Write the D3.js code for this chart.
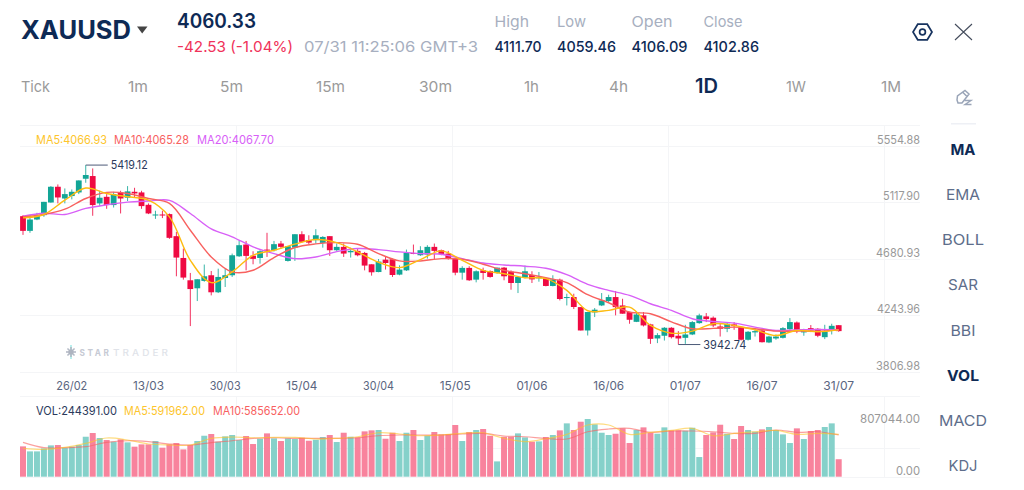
<!DOCTYPE html>
<html><head><meta charset="utf-8">
<script src="https://cdn.jsdelivr.net/npm/d3@7/dist/d3.min.js"></script>
<style>html,body{margin:0;padding:0;background:#fff;overflow:hidden}svg{display:block}text{font-family:Inter,"Noto Sans",sans-serif;dominant-baseline:central}</style>
</head><body><svg id="c" width="1024" height="490"></svg>
<script>
const open=[5011,4897,4985,5019,5117,5239,5148,5167,5195,5301,5322,5110,5161,5097,5195,5154,5200,5195,5099,5019,5024,5027,4856,4687,4514,4452,4509,4553,4421,4532,4553,4700,4791,4705,4687,4752,4747,4799,4664,4767,4871,4825,4825,4804,4856,4747,4773,4731,4742,4726,4638,4578,4674,4677,4558,4591,4726,4708,4713,4773,4747,4721,4682,4573,4610,4519,4591,4586,4571,4612,4581,4493,4534,4555,4529,4529,4470,4519,4379,4384,4306,4125,4265,4319,4353,4384,4319,4268,4192,4242,4172,4063,4084,4146,4084,4068,4094,4182,4234,4224,4156,4138,4172,4146,4053,4110,4125,4032,4063,4068,4135,4187,4110,4143,4138,4073,4125,4166];
const high=[5019,5019,5037,5122,5244,5257,5226,5218,5288,5407,5381,5208,5182,5200,5208,5244,5231,5208,5110,5053,5053,5032,4889,4760,4571,4522,4636,4586,4604,4604,4721,4819,4819,4739,4747,4882,4819,4819,4778,4871,4894,4863,4910,4856,4856,4799,4799,4767,4760,4734,4638,4679,4700,4682,4630,4752,4791,4778,4786,4799,4752,4742,4690,4623,4623,4591,4612,4591,4612,4617,4591,4545,4628,4584,4578,4534,4553,4527,4410,4410,4306,4268,4299,4415,4402,4431,4371,4268,4268,4268,4177,4104,4151,4151,4120,4169,4198,4255,4260,4234,4182,4182,4190,4151,4120,4138,4133,4084,4094,4151,4221,4195,4138,4167,4143,4169,4177,4166];
const low=[4866,4882,4980,5006,5115,5110,5110,5141,5182,5270,5014,5089,5068,5078,5032,5128,5156,5068,5027,4990,4996,4835,4545,4519,4159,4353,4503,4397,4415,4462,4540,4695,4591,4638,4643,4695,4737,4760,4659,4664,4806,4793,4799,4767,4703,4742,4695,4690,4700,4591,4550,4576,4597,4540,4553,4586,4716,4703,4682,4677,4708,4674,4553,4519,4509,4498,4519,4534,4565,4514,4441,4415,4529,4493,4503,4467,4467,4358,4319,4291,4125,4086,4229,4314,4345,4242,4255,4177,4190,4156,4021,4027,4047,4063,4016,4021,4089,4177,4190,4151,4078,4112,4130,4047,4047,4078,4032,4027,4053,4063,4130,4104,4084,4112,4073,4058,4094,4115];
const close=[4897,4985,5019,5122,5239,5156,5182,5200,5288,5330,5097,5154,5097,5182,5148,5203,5187,5089,5032,5024,5016,4843,4690,4535,4446,4522,4545,4421,4540,4553,4708,4786,4703,4680,4739,4744,4794,4773,4778,4871,4812,4806,4863,4850,4747,4773,4721,4742,4708,4628,4576,4659,4648,4555,4597,4726,4721,4747,4773,4742,4716,4682,4573,4610,4514,4584,4571,4540,4612,4545,4493,4540,4584,4521,4540,4470,4521,4369,4384,4307,4125,4268,4286,4358,4384,4306,4255,4208,4249,4164,4060,4089,4146,4073,4063,4094,4190,4242,4213,4164,4138,4177,4159,4053,4115,4120,4034,4078,4078,4143,4190,4130,4120,4125,4084,4115,4161,4120];
const volume=[424000,354000,354000,396000,438000,443000,406000,420000,443000,559000,611000,541000,513000,490000,522000,480000,420000,452000,452000,499000,406000,452000,471000,382000,443000,499000,573000,597000,490000,564000,583000,513000,569000,457000,531000,606000,536000,499000,536000,527000,545000,503000,517000,555000,583000,485000,615000,559000,550000,634000,648000,653000,531000,615000,499000,615000,653000,513000,573000,625000,592000,597000,723000,499000,625000,653000,667000,573000,214000,559000,559000,606000,550000,490000,494000,555000,583000,648000,746000,653000,769000,807044,732000,615000,583000,601000,676000,471000,653000,690000,615000,601000,690000,648000,648000,643000,685000,275000,583000,620000,727000,601000,527000,709000,653000,629000,662000,695000,653000,592000,471000,676000,527000,639000,653000,695000,746000,244391];
const maDays=d3.range(0,118,3);
const ma5=[4998,5024,5135,5229,5187,5161,5135,5006,4669,4496,4579,4708,4747,4794,4830,4806,4734,4654,4612,4674,4742,4669,4591,4565,4534,4527,4436,4278,4281,4306,4164,4104,4120,4177,4164,4130,4086,4125,4115,4130];
const ma10=[5006,5024,5065,5148,5195,5187,5148,5110,4902,4695,4579,4592,4690,4768,4796,4806,4793,4721,4664,4664,4682,4677,4638,4591,4565,4534,4496,4402,4340,4268,4255,4192,4138,4141,4151,4138,4120,4120,4120,4130];
const ma20=[5011,5034,5024,5071,5099,5120,5128,5133,5032,4913,4851,4773,4721,4682,4695,4736,4760,4752,4734,4721,4716,4682,4648,4633,4623,4607,4558,4483,4436,4397,4332,4281,4216,4195,4182,4151,4125,4130,4133,4130];
const volMa5=[396000,382000,410000,466000,541000,513000,457000,443000,443000,536000,555000,545000,550000,550000,527000,536000,559000,615000,597000,573000,583000,606000,615000,536000,490000,531000,592000,723000,723000,592000,620000,648000,676000,573000,606000,629000,648000,592000,606000,591962];
const volMa10=[480000,406000,406000,420000,480000,503000,490000,457000,443000,476000,503000,536000,545000,536000,536000,536000,545000,573000,583000,583000,583000,597000,606000,569000,559000,536000,527000,629000,667000,676000,620000,639000,639000,629000,606000,606000,653000,620000,629000,585652];
const dateLabels=["26/02","13/03","30/03","15/04","30/04","15/05","01/06","16/06","01/07","16/07","31/07"];
const dateDays=[7,18,29,40,51,62,73,84,95,106,117];
const priceTicks=[5554.88,5117.90,4680.93,4243.96,3806.98];
const priceTickWidths=[43,37,44,43,44];
const volTicks=[807044,0];
const volTickWidths=[60,24];
const timeframes=["Tick","1m","5m","15m","30m","1h","4h","1D","1W","1M"];
const indicators=["MA","EMA","BOLL","SAR","BBI","VOL","MACD","KDJ"];
const highLabel="5419.12", lowLabel="3942.74";

const svg=d3.select("#c");
const RED="#ef0a42",TEAL="#12a596",NAVY="#0e2a55",GREY="#a7afc0";
const x=d3.scaleLinear().domain([0,117]).range([23,838.7]);
const y=d3.scaleLinear().domain([3806.98,5554.88]).range([371.5,146]);
const yv=d3.scaleLinear().domain([0,807044]).range([476.7,419]);
const days=d3.range(open.length);
function txt(s,px,py,size,color,opt={}){
  const t=svg.append("text").attr("x",px).attr("y",py).attr("font-size",size).attr("fill",color)
   .attr("font-weight",opt.w||400).attr("text-anchor",opt.a||"start").text(s);
  if(opt.len)t.attr("textLength",opt.len).attr("lengthAdjust","spacingAndGlyphs");
  if(opt.ls)t.attr("letter-spacing",opt.ls);
  return t;
}
// grid
const grid=svg.append("g").attr("stroke","#f4f5f7").attr("stroke-width",1);
[125,y(5554.88),y(5117.90),y(4680.93),y(4243.96),y(3806.98),396,yv(403522),yv(0)].forEach(v=>{
  const p=Math.round(v)+.5;grid.append("line").attr("x1",20).attr("x2",920).attr("y1",p).attr("y2",p);});
[236,452,668,884].forEach(v=>{
  grid.append("line").attr("x1",v+.5).attr("x2",v+.5).attr("y1",125).attr("y2",372);
  grid.append("line").attr("x1",v+.5).attr("x2",v+.5).attr("y1",396).attr("y2",477);});
// watermark
const wm=svg.append("g").attr("transform","translate(71,352)");
d3.range(8).forEach(k=>{const a=k*Math.PI/4;
  wm.append("line").attr("x1",0).attr("y1",0).attr("x2",5*Math.cos(a)).attr("y2",5*Math.sin(a))
    .attr("stroke",k%4==2?"#9fb3bd":"#b4bac6").attr("stroke-width",1.6);});
wm.append("circle").attr("r",2.6).attr("fill","#aeb4c0");
wm.append("circle").attr("cy",-6).attr("r",.7).attr("fill","#3fd4d0");
wm.append("circle").attr("cy",6).attr("r",.7).attr("fill","#3fd4d0");
txt("STAR",79.5,352,9,"#c6cad4",{w:700,ls:"2.8px",len:32});
txt("TRADER",113,352,9,"#e0e3e9",{w:500,ls:"2.8px",len:58});
// candles
const wick=svg.append("g"),body=svg.append("g");
wick.selectAll("line").data(days).join("line")
  .attr("x1",i=>x(i)).attr("x2",i=>x(i)).attr("y1",i=>y(high[i])).attr("y2",i=>y(low[i]))
  .attr("stroke",i=>close[i]>=open[i]?"#3ab5a8":"#f2315f").attr("stroke-width",1);
body.selectAll("rect").data(days).join("rect")
  .attr("x",i=>x(i)-2.9).attr("width",5.8)
  .attr("y",i=>y(Math.max(open[i],close[i])))
  .attr("height",i=>Math.max(1,Math.abs(y(open[i])-y(close[i]))))
  .attr("fill",i=>close[i]>=open[i]?TEAL:RED);
// MA lines
const ln=d3.line().x((d,i)=>x(maDays[i])).y(d=>y(d)).curve(d3.curveCatmullRom.alpha(.5));
[[ma20,"#d860f7"],[ma10,"#f8615f"],[ma5,"#fdbc10"]].forEach(([a,c])=>{
  svg.append("path").attr("d",ln(a)).attr("fill","none").attr("stroke",c).attr("stroke-width",1.4);});
// extremes
const hi=high.indexOf(d3.max(high)), lo=low.indexOf(d3.min(low));
[[hi,high[hi],highLabel],[lo,low[lo],lowLabel]].forEach(([i,v,s])=>{
  svg.append("line").attr("x1",x(i)).attr("x2",x(i)+22).attr("y1",y(v)).attr("y2",y(v)).attr("stroke","#4c5a78").attr("stroke-width",1);
  txt(s,x(i)+25,y(v),11.5,"#2b3a5c",{len:s===highLabel?37:43});
});
// volume
svg.append("g").selectAll("rect").data(days).join("rect")
  .attr("x",i=>x(i)-3).attr("width",6)
  .attr("y",i=>yv(volume[i])).attr("height",i=>yv(0)-yv(volume[i]))
  .attr("fill",i=>close[i]>=open[i]?"#85d1ca":"#f8839d");
const lv=d3.line().x((d,i)=>x(maDays[i])).y(d=>yv(d)).curve(d3.curveCatmullRom.alpha(.5));
[[volMa10,"#f8615f"],[volMa5,"#fdc52b"]].forEach(([a,c])=>{
  svg.append("path").attr("d",lv(a)).attr("fill","none").attr("stroke",c).attr("stroke-width",1.2).attr("stroke-opacity",.6);});
// axes labels
priceTicks.forEach((v,i)=>txt(v.toFixed(2),920,y(v)-6.5,12,"#999",{a:"end",len:priceTickWidths[i]}));
volTicks.forEach((v,i)=>txt(v.toFixed(2),920,v?418.5:470.5,12,"#999",{a:"end",len:volTickWidths[i]}));
dateLabels.forEach((s,i)=>txt(s,x(dateDays[i]),385,12,"#5a6580",{a:"middle",len:31}));
// legends
txt("MA5:4066.93",36,139,12,"#fdc52b",{len:71});
txt("MA10:4065.28",114,139,12,"#f8615f",{len:75});
txt("MA20:4067.70",197,139,12,"#d860f7",{len:77});
txt("VOL:244391.00",36,410,12,"#2b3a5c",{len:81});
txt("MA5:591962.00",124,410,12,"#fdc52b",{len:81});
txt("MA10:585652.00",213,410,12,"#f8615f",{len:87});
// header
txt("XAUUSD",21,30,25,NAVY,{w:700,len:110});
svg.append("path").attr("d","M137 26.5H147.5L142.2 33.5Z").attr("fill","#444");
txt("4060.33",177,21,20,NAVY,{w:600,len:79});
txt("-42.53 (-1.04%)",177,46,15,"#f0325a",{len:116});
txt("07/31 11:25:06 GMT+3",304,46,15,GREY,{len:174});
[["High","4111.70",494.5,34.5,47],["Low","4059.46",557,29,59],["Open","4106.09",631.5,41,56],["Close","4102.86",703.5,39,55.5]].forEach(([a,b,px,l1,l2])=>{
  txt(a,px,21,15,GREY,{len:l1});txt(b,px,46,15,NAVY,{w:500,len:l2});});
const tfX=[[21,29],[128,20],[220,23],[316,29],[419,33],[524,15],[609,19],[695,23],[786,20],[881,20]];
timeframes.forEach((s,i)=>{const b=s==="1D";
  txt(s,tfX[i][0],86,b?20:15,b?NAVY:"#9a9a9a",{w:b?600:400,len:tfX[i][1]});});
const indY=[149,194,239,284,330,375,420,465],indW=[25,34,42,30,25,32,48,29];
indicators.forEach((s,i)=>{const b=s==="MA"||s==="VOL";
  txt(s,963,indY[i],15,b?NAVY:"#5e6e8b",{a:"middle",w:b?700:400,len:indW[i]});});
// icons
const hex=d3.range(6).map(k=>{const a=k*Math.PI/3;return [922.5+9.5*Math.cos(a),32+9*Math.sin(a)];});
svg.append("path").attr("d",d3.line()(hex)+"Z").attr("fill","none").attr("stroke","#17335f").attr("stroke-width",1.7);
svg.append("circle").attr("cx",922.5).attr("cy",32).attr("r",2.9).attr("fill","none").attr("stroke","#17335f").attr("stroke-width",1.7);
svg.append("path").attr("d","M955 24L972 40M972 24L955 40").attr("stroke","#444c5c").attr("stroke-width",1.1).attr("fill","none");
svg.append("path").attr("d","M957 100L957.5 96L965 90.5L969 94L962 103L958 103ZM963 92.5L967 96.5").attr("fill","none").attr("stroke","#9aa5b8").attr("stroke-width",1.5);
svg.append("path").attr("d","M964.5 100.5H971L965 104.5H971.5").attr("fill","none").attr("stroke","#9aa5b8").attr("stroke-width",1.4);
svg.append("rect").attr("x",951).attr("y",123).attr("width",25).attr("height",1.5).attr("fill","#eef0f5");
</script></body></html>
